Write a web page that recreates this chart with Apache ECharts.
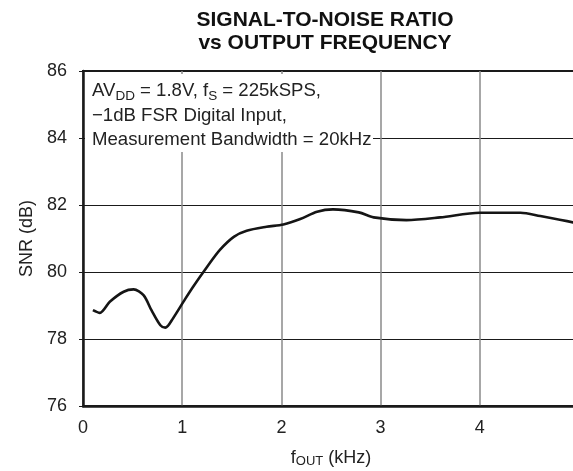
<!DOCTYPE html>
<html>
<head>
<meta charset="utf-8">
<script src="https://cdn.jsdelivr.net/npm/echarts@6/dist/echarts.min.js"></script>
<style>
html,body{margin:0;padding:0;background:#fff;}
#c{width:573px;height:471px;}
</style>
</head>
<body>
<div id="c"></div>
<script>
// Data
var freqKHz = [0.10, 0.17, 0.27, 0.41, 0.51, 0.61, 0.69, 0.78, 0.83, 0.91, 1.01, 1.11, 1.25, 1.38, 1.52, 1.65, 1.85, 2.02, 2.19, 2.36, 2.52, 2.78, 2.93, 3.26, 3.60, 4.00, 4.41, 4.61, 4.94, 5.00];
var snrDB   = [78.86, 78.78, 79.11, 79.41, 79.48, 79.31, 78.86, 78.41, 78.34, 78.63, 79.10, 79.56, 80.15, 80.66, 81.05, 81.23, 81.35, 81.42, 81.58, 81.80, 81.87, 81.78, 81.63, 81.55, 81.63, 81.77, 81.77, 81.67, 81.48, 81.42];
var xTicks = [0, 1, 2, 3, 4, 5];
var yTicks = [76, 78, 80, 82, 84, 86];
var titleLines = ['SIGNAL-TO-NOISE RATIO', 'vs OUTPUT FREQUENCY'];

var FONT = '"Liberation Sans", Arial, sans-serif';
var points = freqKHz.map(function (f, i) { return [f, snrDB[i]]; });

var chart = echarts.init(document.getElementById('c'), null, {renderer: 'canvas'});
chart.setOption({
  animation: false,
  backgroundColor: '#fff',
  grid: {
    left: 83, top: 71, bottom: 65, right: -6,
    containLabel: false,
    outerBoundsMode: 'none',
    show: true, borderColor: '#1a1a1a', borderWidth: 2, backgroundColor: 'transparent'
  },
  xAxis: {
    type: 'value',
    min: xTicks[0], max: xTicks[xTicks.length - 1], interval: 1,
    name: '{n|f}{s|OUT}{n| (kHz)}',
    nameLocation: 'middle',
    nameGap: 42,
    nameTextStyle: {
      rich: {
        n: {fontSize: 18, lineHeight: 20, fontFamily: FONT, color: '#222'},
        s: {fontSize: 13, lineHeight: 6, verticalAlign: 'bottom', fontFamily: FONT, color: '#222'}
      }
    },
    axisLine: {show: true, lineStyle: {color: '#1a1a1a', width: 2.5}},
    axisTick: {show: false},
    axisLabel: {fontSize: 18, fontFamily: FONT, color: '#222', margin: 13, showMaxLabel: true},
    splitLine: {show: true, lineStyle: {color: '#8a8a8a', width: 1.5}}
  },
  yAxis: {
    type: 'value',
    min: yTicks[0], max: yTicks[yTicks.length - 1], interval: 2,
    name: 'SNR (dB)',
    nameLocation: 'middle',
    nameGap: 47,
    nameTextStyle: {fontSize: 18, fontFamily: FONT, color: '#222'},
    axisLine: {show: true, lineStyle: {color: '#1a1a1a', width: 2.5}},
    axisTick: {show: true, length: 4, lineStyle: {color: '#1a1a1a', width: 1}},
    axisLabel: {fontSize: 18, fontFamily: FONT, color: '#222', margin: 16},
    splitLine: {show: true, lineStyle: {color: '#1a1a1a', width: 1}}
  },
  series: [{
    type: 'line',
    data: points,
    showSymbol: false,
    smooth: 0.3,
    clip: true,
    lineStyle: {color: '#151515', width: 2.6},
    z: 5
  }],
  graphic: [
    {
      type: 'text', x: 325, y: 9, z: 20,
      style: {
        text: titleLines.join('\n'),
        textAlign: 'center', textVerticalAlign: 'top',
        font: 'bold 21px ' + FONT, lineHeight: 22.5, fill: '#111'
      }
    },
    {
      type: 'rect', z: 10,
      shape: {x: 85, y: 74, width: 288, height: 78},
      style: {fill: '#ffffff', stroke: null}
    },
    {
      type: 'text', x: 92, y: 79, z: 11,
      style: {
        text: '{n|AV}{s|DD}{n| = 1.8V, f}{s|S}{n| = 225kSPS,}\n{n|\u22121dB FSR Digital Input,}\n{n|Measurement Bandwidth = 20kHz}',
        rich: {
          n: {fontSize: 18.6, lineHeight: 24.5, fontFamily: FONT, fill: '#222'},
          s: {fontSize: 13.5, lineHeight: 14, verticalAlign: 'bottom', fontFamily: FONT, fill: '#222'}
        }
      }
    }
  ]
});
</script>
</body>
</html>
